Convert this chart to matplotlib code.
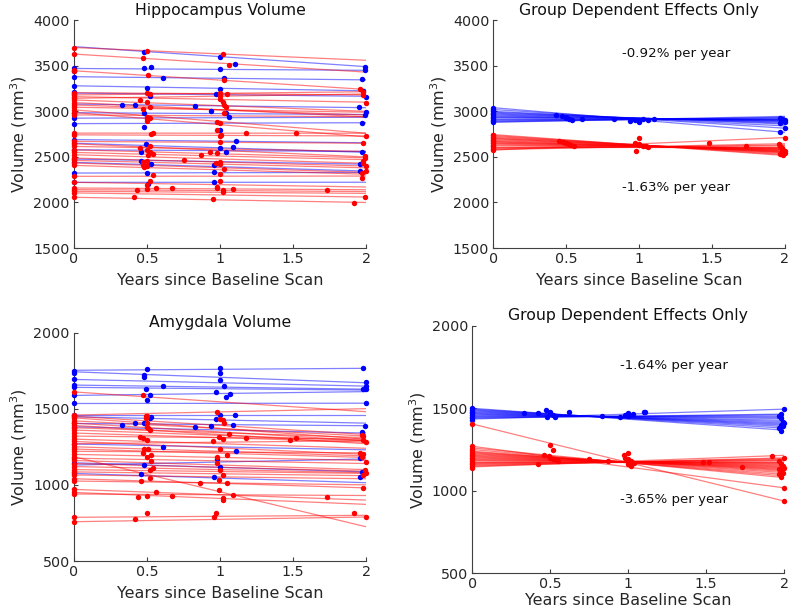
import matplotlib
matplotlib.use("Agg")
import matplotlib.pyplot as plt

# ---- Hippocampus, individual subjects (fit line from year 0 to year 2) ----
hip_blue_start = [3710, 3470, 3380, 3280, 3200, 3080, 2985, 2925, 2865, 2690, 2650, 2578, 2476, 2440, 2323, 2221]
hip_blue_end = [3490, 3450, 3345, 3225, 3165, 3040, 2965, 2935, 2875, 2655, 2550, 2560, 2420, 2345, 2330, 2222]
hip_red_start = [3700, 3628, 3445, 3205, 3180, 3161, 3143, 3125, 3096, 3070, 3045, 3016, 2987, 2961, 2761,
                 2742, 2670, 2644, 2615, 2578, 2549, 2524, 2487, 2462, 2433, 2407, 2287, 2221, 2159, 2141,
                 2123, 2105, 2057]
hip_red_end = [3560, 3430, 3240, 3180, 3215, 3100, 3190, 3000, 2940, 2960, 2990, 2760, 2720, 2940, 2760,
               2730, 2650, 2500, 2560, 2490, 2470, 2430, 2400, 2380, 2330, 2310, 2290, 2170, 2140, 2120,
               2100, 2060, 2000]

hip_blue_t = [0, 0, 0, 0, 0, 0, 0, 0, 0, 0, 0, 0, 0, 0, 0, 0,
              0.48, 0.48, 0.53, 0.61, 0.50, 0.52, 0.33, 0.42, 0.83, 0.48, 0.48, 0.49, 0.46, 0.46, 0.53, 0.50, 0.51,
              1.0, 1.0, 1.1, 1.03, 1.0, 0.97, 0.94, 1.04, 1.06, 1.0, 1.11, 1.09, 1.0, 1.04, 0.96, 0.96, 0.96,
              1.99, 1.99, 1.97, 1.98, 2.0, 1.95, 2.0, 1.99, 1.97, 1.97, 1.96, 1.96]
hip_blue_v = [3472, 3442, 3373, 3278, 3216, 3187, 2980, 2925, 2863, 2688, 2651, 2578, 2476, 2440, 2323, 2221,
              3646, 3470, 3490, 3369, 3260, 3169, 3071, 3074, 3063, 2979, 2830, 2637, 2553, 2458, 2422, 2323, 2207,
              3599, 3464, 3515, 3366, 3249, 3191, 3009, 2979, 2936, 2790, 2670, 2608, 2593, 2553, 2411, 2334, 2221,
              3490, 3450, 3350, 3227, 3162, 3045, 2990, 2965, 2877, 2553, 2422, 2342]

hip_red_t = [0, 0, 0, 0, 0, 0, 0, 0, 0, 0, 0, 0, 0, 0, 0, 0, 0, 0, 0, 0, 0, 0, 0, 0, 0, 0, 0, 0, 0, 0, 0, 0, 0, 0,
             0.50, 0.47, 0.51, 0.50, 0.52, 0.45, 0.50, 0.47, 0.52, 0.50, 0.50, 0.50, 0.52, 0.53, 0.54,
             0.45, 0.50, 0.52, 0.52, 0.54, 0.51, 0.47, 0.50, 0.47, 0.48, 0.50, 0.54, 0.52, 0.50, 0.50,
             0.43, 0.56, 0.67, 0.41, 0.75, 0.87, 0.93,
             1.02, 1.06, 1.03, 1.0, 1.0, 1.05, 1.0, 1.02, 1.03, 1.04, 1.03, 0.98, 1.0, 0.98, 1.0, 1.01,
             1.0, 0.98, 0.97, 1.0, 1.0, 1.0, 1.0, 1.03, 0.98, 0.98, 1.02, 1.02, 1.09, 0.95,
             1.18, 1.52, 1.73,
             1.96, 1.98, 1.98, 2.0, 2.0, 1.98, 1.99, 1.99, 1.98, 1.98, 2.0, 2.0, 1.97, 1.97, 1.99, 1.92]
hip_red_v = [3700, 3628, 3453, 3442, 3205, 3180, 3161, 3143, 3125, 3096, 3070, 3045, 3016, 2987, 2961, 2761, 2742,
             2670, 2644, 2615, 2578, 2549, 2524, 2487, 2462, 2433, 2407, 2287, 2221, 2159, 2141, 2123, 2105, 2057,
             3661, 3580, 3395, 3205, 3187, 3125, 3107, 3027, 3045, 2943, 2914, 2892, 2925, 2750, 2757,
             2593, 2575, 2622, 2549, 2535, 2524, 2440, 2451, 2414, 2385, 2396, 2305, 2232, 2196, 2148,
             2134, 2159, 2156, 2057, 2469, 2524, 2549,
             3628, 3508, 3344, 3198, 3169, 3187, 3132, 3107, 3070, 3052, 2987, 2881, 2870, 2790, 2724, 2742,
             2660, 2538, 2433, 2444, 2422, 2240, 2312, 2371, 2167, 2156, 2134, 2119, 2148, 2043,
             2757, 2761, 2134,
             3242, 3216, 3180, 3096, 2724, 2651, 2505, 2487, 2451, 2433, 2396, 2342, 2323, 2269, 2057, 1999]

# ---- Amygdala, individual subjects ----
amy_blue_start = [1752, 1742, 1692, 1655, 1640, 1587, 1534, 1458, 1447, 1403, 1381, 1268, 1145, 1075, 1130]
amy_blue_end = [1765, 1670, 1648, 1628, 1622, 1612, 1536, 1458, 1405, 1388, 1340, 1230, 1085, 1014, 1170]
amy_red_start = [1610, 1458, 1450, 1440, 1420, 1405, 1390, 1375, 1360, 1340, 1320, 1300, 1285, 1270, 1250,
                 1235, 1220, 1200, 1184, 1175, 1160, 1140, 1120, 1100, 1085, 1065, 1040, 1025, 970, 950,
                 940, 787, 758]
amy_red_end = [1480, 1500, 1330, 1300, 1320, 1290, 1270, 1310, 1290, 1280, 1300, 1240, 1200, 1290, 1190,
               1180, 1210, 1160, 725, 1140, 1100, 1090, 1080, 1075, 1060, 1040, 980, 1000, 900, 872,
               930, 800, 789]

amy_blue_t = [0, 0, 0, 0, 0, 0, 0, 0, 0, 0, 0, 0, 0, 0,
              0.50, 0.48, 0.48, 0.61, 0.49, 0.52, 0.50, 0.52, 0.53, 0.33, 0.42, 0.48, 0.61, 0.48, 0.46,
              1.0, 1.0, 1.0, 1.03, 0.97, 1.04, 1.07, 1.0, 1.1, 0.83, 0.94, 1.09, 0.97, 1.11, 0.98, 1.0, 0.96,
              1.98, 2.0, 2.0, 1.98, 2.0, 2.0, 1.99, 1.97, 1.96, 1.97, 1.96]
amy_blue_v = [1749, 1736, 1692, 1655, 1640, 1587, 1534, 1458, 1447, 1403, 1381, 1268, 1145, 1075,
              1760, 1720, 1709, 1652, 1628, 1593, 1556, 1440, 1447, 1392, 1403, 1403, 1248, 1128, 1069,
              1764, 1731, 1687, 1648, 1609, 1576, 1596, 1458, 1456, 1381, 1386, 1392, 1434, 1224, 1167, 1115, 1049,
              1766, 1672, 1648, 1626, 1626, 1534, 1386, 1344, 1173, 1086, 1053]

amy_red_t = [0, 0, 0, 0, 0, 0, 0, 0, 0, 0, 0, 0, 0, 0, 0, 0, 0, 0, 0, 0, 0, 0, 0, 0, 0, 0, 0, 0, 0, 0, 0, 0, 0,
             0.47, 0.49, 0.50, 0.49, 0.50, 0.50, 0.51, 0.52, 0.45, 0.47, 0.50, 0.48, 0.51, 0.47, 0.50, 0.53,
             0.53, 0.54, 0.52, 0.46, 0.52, 0.44, 0.50, 0.56, 0.67, 0.50, 0.42,
             0.98, 1.0, 1.02, 1.03, 1.06, 0.99, 0.95, 1.02, 1.0, 0.98, 1.05, 0.98, 1.0, 1.02, 0.99, 1.05,
             0.86, 0.99, 1.02, 1.02, 1.09, 0.97, 0.96,
             1.18, 1.48, 1.52, 1.73,
             1.98, 1.97, 1.98, 2.0, 1.96, 1.98, 1.97, 2.0, 1.99, 2.0, 1.98, 1.98, 1.92, 2.0]
amy_red_v = [1610, 1458, 1450, 1440, 1420, 1405, 1390, 1375, 1360, 1340, 1320, 1300, 1285, 1270, 1250, 1235,
             1220, 1200, 1184, 1175, 1160, 1140, 1120, 1100, 1085, 1065, 1040, 1025, 970, 950, 940, 787, 758,
             1589, 1451, 1451, 1436, 1403, 1381, 1370, 1360, 1316, 1305, 1295, 1233, 1233, 1211, 1184, 1195,
             1155, 1108, 1100, 1025, 1043, 922, 929, 951, 929, 813, 776,
             1480, 1434, 1425, 1403, 1331, 1311, 1287, 1300, 1233, 1184, 1195, 1141, 1097, 1064, 1032, 1010,
             1012, 966, 911, 900, 933, 813, 791,
             1309, 1294, 1305, 918,
             1322, 1330, 1294, 1283, 1211, 1202, 1184, 1147, 1097, 1075, 1064, 981, 813, 789]

# ---- Group dependent effects only: hippocampus ----
grp_hip_blue_start = [3040, 3020, 3000, 2990, 2980, 2970, 2960, 2950, 2940, 2935, 2925, 2915, 2905, 2895, 2885, 2880]
grp_hip_blue_end = [2770, 2815, 2840, 2860, 2870, 2880, 2888, 2895, 2900, 2905, 2910, 2915, 2920, 2928, 2935, 2945]
grp_hip_red_start = [2745, 2735, 2725, 2715, 2705, 2700, 2690, 2680, 2670, 2665, 2655, 2650, 2640, 2630, 2620,
                     2610, 2600, 2590, 2580, 2575]
grp_hip_red_end = [2515, 2525, 2535, 2545, 2550, 2555, 2560, 2565, 2570, 2575, 2580, 2585, 2590, 2595, 2600,
                   2610, 2620, 2630, 2645, 2712]

grp_hip_blue_t = [0, 0, 0, 0, 0, 0, 0, 0, 0, 0, 0,
                  0.43, 0.47, 0.50, 0.50, 0.52, 0.54, 0.61, 0.83, 0.94, 0.97, 1.0, 1.0, 1.0, 1.03, 1.06, 1.1,
                  1.97, 2.0, 1.97, 1.98, 2.0, 1.99, 1.98, 2.0, 1.97]
grp_hip_blue_v = [3040, 3020, 3000, 2985, 2970, 2955, 2940, 2925, 2910, 2895, 2885,
                  2960, 2952, 2940, 2930, 2920, 2905, 2920, 2915, 2895, 2905, 2890, 2880, 2905, 2915, 2910, 2915,
                  2768, 2815, 2930, 2920, 2910, 2900, 2890, 2880, 2875]
grp_hip_red_t = [0, 0, 0, 0, 0, 0, 0, 0, 0, 0, 0, 0, 0,
                 0.45, 0.48, 0.50, 0.50, 0.52, 0.53, 0.55, 0.97, 1.0, 1.0, 1.03, 1.05, 1.06, 1.0, 0.98,
                 1.48, 1.73,
                 1.96, 1.97, 1.98, 1.99, 2.0, 1.98, 1.99, 2.0, 1.97, 1.99, 2.0]
grp_hip_red_v = [2745, 2735, 2720, 2705, 2690, 2680, 2665, 2650, 2635, 2620, 2605, 2590, 2580,
                 2670, 2665, 2655, 2650, 2640, 2630, 2620, 2650, 2640, 2630, 2625, 2620, 2610, 2712, 2565,
                 2650, 2620,
                 2640, 2620, 2600, 2580, 2570, 2560, 2550, 2540, 2530, 2520, 2712]

# ---- Group dependent effects only: amygdala ----
grp_amy_blue_start = [1500, 1495, 1490, 1485, 1480, 1475, 1470, 1465, 1460, 1455, 1450, 1445, 1440, 1435]
grp_amy_blue_end = [1368, 1380, 1390, 1398, 1405, 1412, 1420, 1428, 1438, 1445, 1452, 1460, 1465, 1495]
grp_amy_red_start = [1405, 1270, 1260, 1250, 1240, 1235, 1230, 1225, 1220, 1215, 1210, 1205, 1200, 1195,
                     1190, 1185, 1180, 1175, 1170, 1165, 1160, 1155, 1150, 1145]
grp_amy_red_end = [938, 1018, 1080, 1090, 1100, 1110, 1118, 1125, 1130, 1135, 1140, 1145, 1150, 1155,
                   1160, 1165, 1170, 1175, 1180, 1185, 1190, 1195, 1200, 1215]

grp_amy_blue_t = [0, 0, 0, 0, 0, 0, 0, 0,
                  0.33, 0.42, 0.47, 0.50, 0.50, 0.52, 0.48, 0.53, 0.62, 0.83, 0.95, 0.98, 1.0, 1.0, 1.03, 1.1, 1.11,
                  2.0, 1.98, 1.97, 1.98, 1.99, 2.0, 1.98, 1.99, 1.97, 1.98]
grp_amy_blue_v = [1500, 1490, 1480, 1470, 1460, 1450, 1440, 1432,
                  1473, 1470, 1490, 1480, 1470, 1460, 1450, 1445, 1478, 1455, 1450, 1460, 1470, 1455, 1465, 1480, 1478,
                  1495, 1465, 1455, 1440, 1420, 1410, 1400, 1390, 1380, 1365]
grp_amy_red_t = [0, 0, 0, 0, 0, 0, 0, 0, 0, 0, 0, 0, 0, 0,
                 0.42, 0.50, 0.52, 0.46, 0.49, 0.50, 0.52, 0.54, 0.55, 0.75, 0.87, 0.97, 1.0, 0.98, 1.0,
                 1.02, 1.04, 1.0, 1.02,
                 1.48, 1.52, 1.73, 1.92,
                 2.0, 1.97, 1.98, 1.99, 2.0, 1.97, 1.98, 1.99, 1.97, 1.98, 2.0, 2.0]
grp_amy_red_v = [1405, 1270, 1255, 1240, 1230, 1220, 1210, 1200, 1190, 1180, 1170, 1160, 1150, 1140,
                 1165, 1275, 1250, 1220, 1210, 1200, 1195, 1185, 1180, 1190, 1180, 1220, 1230, 1200, 1190,
                 1180, 1170, 1160, 1150,
                 1175, 1175, 1145, 1210,
                 1200, 1180, 1165, 1150, 1140, 1130, 1120, 1110, 1100, 1085, 1015, 940]

rate_labels = ["-0.92% per year", "-1.63% per year", "-1.64% per year", "-3.65% per year"]

BLUE = (0, 0, 1)
RED = (1, 0, 0)
AXC = "#404040"

plt.rcParams["font.family"] = "DejaVu Sans"

fig = plt.figure(figsize=(7.9, 6.11), dpi=100)
ax_hip = fig.add_axes([0.0937, 0.594, 0.3696, 0.373])
ax_ghip = fig.add_axes([0.6245, 0.594, 0.369, 0.373])
ax_amy = fig.add_axes([0.0937, 0.0818, 0.3696, 0.374])
ax_gamy = fig.add_axes([0.598, 0.0617, 0.3945, 0.405])


def draw_lines(ax, starts, ends, color):
    for a, b in zip(starts, ends):
        ax.plot([0, 2], [a, b], "-", color=color, lw=0.9, alpha=0.5, zorder=2)


def draw_dots(ax, t, v, color):
    ax.plot(t, v, "o", color=color, ms=3.9, mec="none", zorder=3, clip_on=False)


def style(ax, title, ylim, yticks, xpad=5):
    ax.set_xlim(0, 2)
    ax.set_ylim(*ylim)
    ax.set_xticks([0, 0.5, 1, 1.5, 2])
    ax.set_xticklabels(["0", "0.5", "1", "1.5", "2"])
    ax.set_yticks(yticks)
    for s in ["top", "right"]:
        ax.spines[s].set_visible(False)
    for s in ["left", "bottom"]:
        ax.spines[s].set_color(AXC)
        ax.spines[s].set_linewidth(0.8)
    ax.tick_params(direction="in", length=3, width=0.8, color=AXC, labelcolor="#262626",
                   labelsize=10.3, pad=3)
    ax.set_title(title, fontsize=11.3, pad=4, color="#111111")
    ax.set_xlabel("Years since Baseline Scan", fontsize=11.5, color="#262626", labelpad=xpad)
    ax.set_ylabel("Volume (mm$^3$)", fontsize=11.5, color="#262626", labelpad=3)


# Hippocampus
draw_lines(ax_hip, hip_blue_start, hip_blue_end, BLUE)
draw_lines(ax_hip, hip_red_start, hip_red_end, RED)
draw_dots(ax_hip, hip_blue_t, hip_blue_v, BLUE)
draw_dots(ax_hip, hip_red_t, hip_red_v, RED)
style(ax_hip, "Hippocampus Volume", (1500, 4000), [1500, 2000, 2500, 3000, 3500, 4000])

# Group effects, hippocampus
draw_lines(ax_ghip, grp_hip_blue_start, grp_hip_blue_end, BLUE)
draw_lines(ax_ghip, grp_hip_red_start, grp_hip_red_end, RED)
draw_dots(ax_ghip, grp_hip_blue_t, grp_hip_blue_v, BLUE)
draw_dots(ax_ghip, grp_hip_red_t, grp_hip_red_v, RED)
style(ax_ghip, "Group Dependent Effects Only", (1500, 4000), [1500, 2000, 2500, 3000, 3500, 4000])
ax_ghip.text(0.88, 3636, rate_labels[0], fontsize=9.6, va="center", color="#111111")
ax_ghip.text(0.88, 2167, rate_labels[1], fontsize=9.6, va="center", color="#111111")

# Amygdala
draw_lines(ax_amy, amy_blue_start, amy_blue_end, BLUE)
draw_lines(ax_amy, amy_red_start, amy_red_end, RED)
draw_dots(ax_amy, amy_blue_t, amy_blue_v, BLUE)
draw_dots(ax_amy, amy_red_t, amy_red_v, RED)
style(ax_amy, "Amygdala Volume", (500, 2000), [500, 1000, 1500, 2000])

# Group effects, amygdala
draw_lines(ax_gamy, grp_amy_blue_start, grp_amy_blue_end, BLUE)
draw_lines(ax_gamy, grp_amy_red_start, grp_amy_red_end, RED)
draw_dots(ax_gamy, grp_amy_blue_t, grp_amy_blue_v, BLUE)
draw_dots(ax_gamy, grp_amy_red_t, grp_amy_red_v, RED)
style(ax_gamy, "Group Dependent Effects Only", (500, 2000), [500, 1000, 1500, 2000], xpad=1)
ax_gamy.text(0.95, 1762, rate_labels[2], fontsize=9.6, va="center", color="#111111")
ax_gamy.text(0.95, 950, rate_labels[3], fontsize=9.6, va="center", color="#111111")

fig.savefig("out.png", dpi=100)
